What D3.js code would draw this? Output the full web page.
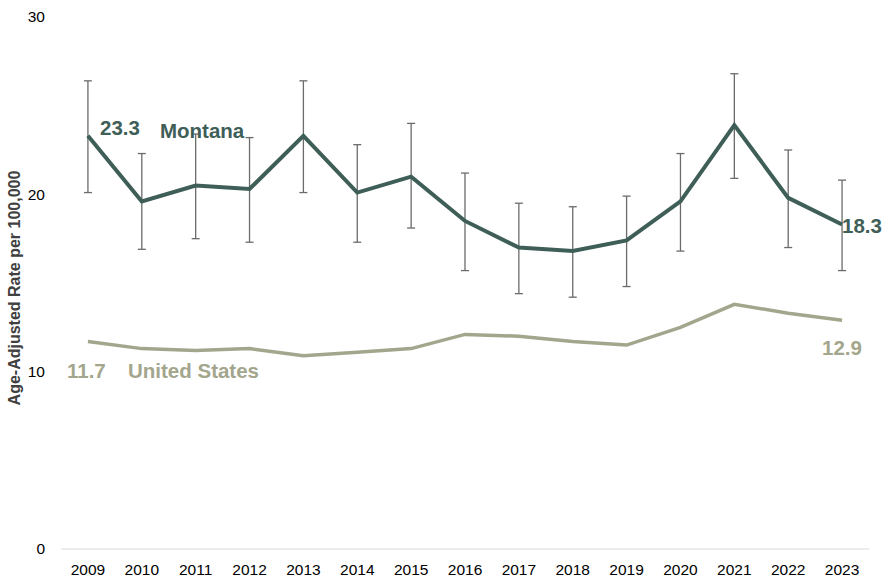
<!DOCTYPE html>
<html>
<head>
<meta charset="utf-8">
<script src="https://cdnjs.cloudflare.com/ajax/libs/d3/7.8.5/d3.min.js"></script>
<style>
  body { margin: 0; background: #fff; }
  text { font-family: "Liberation Sans", Arial, sans-serif; }
</style>
</head>
<body>
<svg id="chart" width="882" height="582"></svg>
<script>
// years on the x axis
var years = ['2009','2010','2011','2012','2013','2014','2015','2016','2017','2018','2019','2020','2021','2022','2023'];

// Montana rate, with confidence interval
var montana   = [23.3, 19.6, 20.5, 20.3, 23.3, 20.1, 21.0, 18.5, 17.0, 16.8, 17.4, 19.6, 23.9, 19.8, 18.3];
var montanaLo = [20.1, 16.9, 17.5, 17.3, 20.1, 17.3, 18.1, 15.7, 14.4, 14.2, 14.8, 16.8, 20.9, 17.0, 15.7];
var montanaHi = [26.4, 22.3, 23.4, 23.2, 26.4, 22.8, 24.0, 21.2, 19.5, 19.3, 19.9, 22.3, 26.8, 22.5, 20.8];

// United States rate
var us = [11.7, 11.3, 11.2, 11.3, 10.9, 11.1, 11.3, 12.1, 12.0, 11.7, 11.5, 12.5, 13.8, 13.3, 12.9];

var yTicks = [0, 10, 20, 30];

var svg = d3.select('#chart');
var green = '#3e5e57', olive = '#a3a68c';

var x = d3.scaleBand().domain(years).range([61, 869]);
var y = d3.scaleLinear().domain([0, 30]).range([549, 17]);
var cx = function(i) { return x(years[i]) + x.bandwidth() / 2; };

// baseline
svg.append('line')
   .attr('x1', 61).attr('x2', 869)
   .attr('y1', y(0)).attr('y2', y(0))
   .attr('stroke', '#d9d9d9').attr('stroke-width', 1);

// y axis
var yAxis = svg.append('g')
   .attr('transform', 'translate(45,0)')
   .call(d3.axisLeft(y).tickValues(yTicks).tickSize(0).tickPadding(0));
yAxis.select('.domain').remove();
yAxis.selectAll('text').attr('font-size', 15.5).attr('fill', '#000');

// x axis
var xAxis = svg.append('g')
   .attr('transform', 'translate(0,' + (y(0) + 15) + ')')
   .call(d3.axisBottom(x).tickSize(0).tickPadding(0));
xAxis.select('.domain').remove();
xAxis.selectAll('text').attr('font-size', 15.5).attr('fill', '#000');

// y title
svg.append('text')
   .attr('transform', 'translate(20,' + 288 + ') rotate(-90)')
   .attr('text-anchor', 'middle')
   .attr('font-size', 16).attr('font-weight', 'bold').attr('fill', '#404040')
   .text('Age-Adjusted Rate per 100,000');

// error bars
var eb = svg.append('g').attr('stroke', '#6b6b6b').attr('stroke-width', 1.3);
years.forEach(function(d, i) {
  eb.append('line').attr('x1', cx(i)).attr('x2', cx(i)).attr('y1', y(montanaLo[i])).attr('y2', y(montanaHi[i]));
  eb.append('line').attr('x1', cx(i) - 4).attr('x2', cx(i) + 4).attr('y1', y(montanaLo[i])).attr('y2', y(montanaLo[i]));
  eb.append('line').attr('x1', cx(i) - 4).attr('x2', cx(i) + 4).attr('y1', y(montanaHi[i])).attr('y2', y(montanaHi[i]));
});

var line = d3.line().x(function(d, i) { return cx(i); }).y(function(d) { return y(d); });

svg.append('path').datum(us)
   .attr('d', line).attr('fill', 'none')
   .attr('stroke', olive).attr('stroke-width', 3.5);

svg.append('path').datum(montana)
   .attr('d', line).attr('fill', 'none')
   .attr('stroke', green).attr('stroke-width', 4).attr('stroke-linejoin', 'miter');

// labels
var lab = function(t, xx, yy, c, anchor) {
  svg.append('text').attr('x', xx).attr('y', yy)
     .attr('font-size', 20.5).attr('font-weight', 'bold')
     .attr('fill', c).attr('text-anchor', anchor || 'start')
     .text(t);
};
lab(d3.format('.1f')(montana[0]), 100, y(montana[0]) - 1, green);
lab('Montana', 160, y(montana[0]) + 2, green);
lab(d3.format('.1f')(montana[14]), cx(14), y(montana[14]) + 9, green);
lab(d3.format('.1f')(us[0]), 67, y(us[0]) + 36, olive);
lab('United States', 128, y(us[0]) + 36, olive);
lab(d3.format('.1f')(us[14]), cx(14) - 20, y(us[14]) + 35, olive);
</script>
</body>
</html>
